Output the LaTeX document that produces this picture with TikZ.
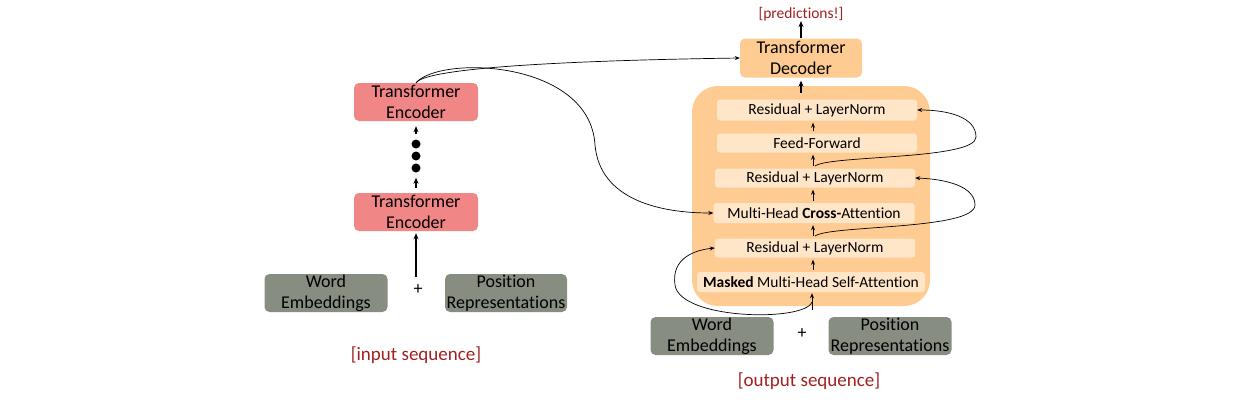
\documentclass[tikz,border=0pt]{standalone}
\usepackage{fontspec}
\setmainfont{Carlito}[Ligatures=NoCommon]
\usetikzlibrary{arrows.meta}
\definecolor{encred}{RGB}{240,134,134}
\definecolor{embgray}{RGB}{136,141,130}
\definecolor{decorange}{RGB}{254,204,146}
\definecolor{innerlight}{RGB}{255,230,201}
\definecolor{seqred}{RGB}{160,32,32}
\begin{document}
\begin{tikzpicture}[x=1pt,y=-1pt,
  encbox/.style={fill=encred, rounded corners=5, minimum width=124, minimum height=38, inner sep=0, align=center, font=\fontsize{18}{21}\selectfont},
  embbox/.style={fill=embgray, rounded corners=5, minimum width=123, minimum height=38, inner sep=0, align=center, font=\fontsize{18}{21}\selectfont},
  decbox/.style={fill=decorange, rounded corners=5, minimum width=122, minimum height=39, inner sep=0, align=center, font=\fontsize{18}{21}\selectfont},
  layerbox/.style={fill=innerlight, rounded corners=3, minimum width=200, minimum height=20, inner sep=1, font=\fontsize{15.5}{18}\selectfont},
  seqlabel/.style={text=seqred, inner sep=0, font=\fontsize{19}{22}\selectfont},
  plussign/.style={inner sep=0, font=\fontsize{18}{21}\selectfont},
  dot/.style={circle, fill=black, minimum size=9, inner sep=0},
  thickarrow/.style={line width=1.4pt, -{Stealth[length=6pt,width=5pt]}},
  thinarrow/.style={line width=0.8pt, -{Stealth[length=5pt,width=4pt]}},
  curvearrow/.style={line width=0.7pt, -{Stealth[length=5pt,width=4pt]}}
]
\useasboundingbox (0,0) rectangle (1244,408);

% ---------------- Encoder side ----------------
\node[encbox] (enc2) at (416,102) {Transformer\\Encoder};
\node[encbox] (enc1) at (416,212) {Transformer\\Encoder};
\node[dot] (d1) at (416,144) {};
\node[dot] (d2) at (416,156) {};
\node[dot] (d3) at (416,168) {};
\node[embbox] (we1) at (326,293) {Word\\Embeddings};
\node[plussign] (plus1) at (418,290) {+};
\node[embbox, minimum width=122] (pr1) at (506,293) {Position\\Representations};
\node[seqlabel] (inseq) at (416,355) {[input sequence]};

\draw[thickarrow, shorten <=5pt, shorten >=5pt] (enc1.north) -- (d3.south);
\draw[thickarrow, shorten <=5pt, shorten >=5pt] (d1.north) -- (enc2.south);
\coordinate (in1) at (416,277);
\draw[thickarrow, shorten >=2pt] (in1) -- (enc1.south);

% ---------------- Decoder side ----------------
\node[fill=decorange, rounded corners=26, minimum width=238, minimum height=220, inner sep=0] (bg) at (811,196) {};
\node[decbox] (dec) at (801,58) {Transformer\\Decoder};
\node[seqlabel, font=\fontsize{15.5}{18}\selectfont] (pred) at (801,14) {[predictions!]};

\node[layerbox, minimum height=21] (rl3) at (817,110) {Residual + LayerNorm};
\node[layerbox, minimum height=19] (ff) at (817,143) {Feed-Forward};
\node[layerbox, minimum height=19] (rl2) at (815,178) {Residual + LayerNorm};
\node[layerbox, minimum width=201] (cross) at (814,213) {Multi-Head \textbf{Cross-}Attention};
\node[layerbox, minimum height=19] (rl1) at (815,248) {Residual + LayerNorm};
\node[layerbox, minimum width=228] (mask) at (811,282) {\textbf{Masked} Multi-Head Self-Attention};

\node[embbox] (we2) at (712,336) {Word\\Embeddings};
\node[plussign] (plus2) at (802,334) {+};
\node[embbox] (pr2) at (890,336) {Position\\Representations};
\node[seqlabel] (outseq) at (809,381) {[output sequence]};

% vertical flow inside decoder
\coordinate (col) at (813,0);
\draw[thinarrow, shorten <=2pt, shorten >=2pt] (mask.north -| col) -- (rl1.south -| col);
\draw[thinarrow, shorten <=2pt, shorten >=2pt] (rl1.north -| col) -- (cross.south -| col);
\draw[thinarrow, shorten <=2pt, shorten >=2pt] (cross.north -| col) -- (rl2.south -| col);
\draw[thinarrow, shorten <=2pt, shorten >=2pt] (rl2.north -| col) -- (ff.south -| col);
\draw[thinarrow, shorten <=2pt, shorten >=2pt] (ff.north -| col) -- (rl3.south -| col);
\coordinate (bgtop) at (801,93);
\draw[thickarrow, line width=1.1pt, shorten >=3pt] (bgtop) -- (dec.south);
\draw[thickarrow, line width=1.1pt] (dec.north) -- (pred.south);

% input into masked attention
\coordinate (in2) at (812,310);
\draw[thinarrow, shorten >=1pt] (in2) -- (mask.south -| in2);

% residual connections
\coordinate (r1s) at (812,302);
\draw[curvearrow] (r1s) .. controls (805,322) and (680,320) .. (675,285)
  .. controls (671,258) and (695,250) .. (rl1.west);
\coordinate (r2s) at (815,236);
\draw[curvearrow] (r2s) .. controls (830,225) and (975,230) .. (975,205)
  .. controls (975,186) and (945,179) .. (rl2.east);
\coordinate (r3s) at (815,166);
\draw[curvearrow] (r3s) .. controls (830,155) and (976,160) .. (976,137)
  .. controls (976,117) and (948,110) .. (rl3.east);

% encoder output to decoder
\draw[curvearrow] (enc2.north) .. controls (428,66) and (600,60) .. (dec.west);
\draw[curvearrow] (enc2.north) .. controls (440,55) and (590,60) .. (595,145)
  .. controls (600,200) and (660,213) .. (cross.west);
\end{tikzpicture}
\end{document}
